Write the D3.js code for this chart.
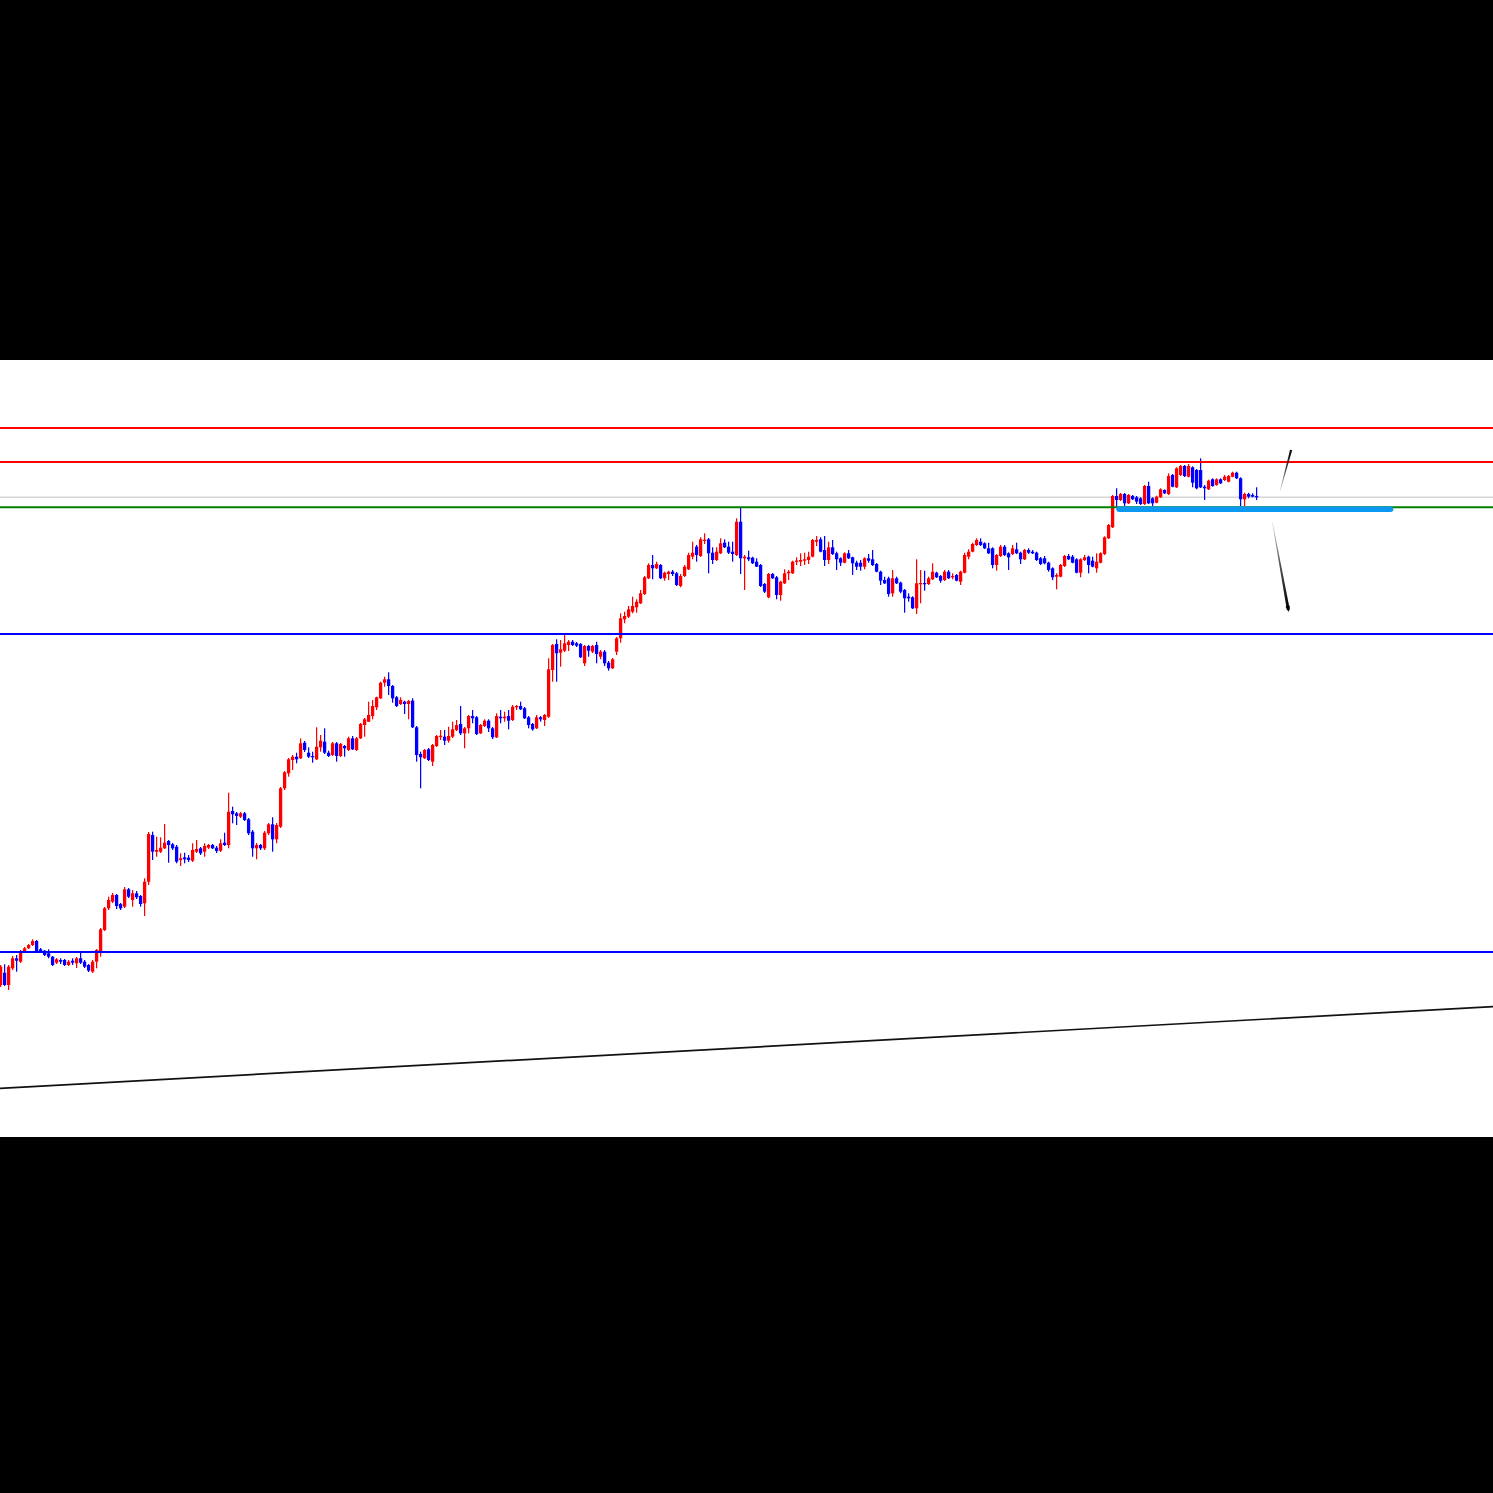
<!DOCTYPE html>
<html><head><meta charset="utf-8">
<script src="https://cdn.jsdelivr.net/npm/d3@7/dist/d3.min.js"></script>
<style>html,body{margin:0;padding:0;background:#000;overflow:hidden}</style>
</head><body>
<script>
// ---- candle data (bar index = position in arrays) ----
const opens = [
143.750,143.873,143.750,143.917,144.017,143.983,144.083,144.117,144.150,144.190,
144.107,144.093,144.067,144.033,143.973,144.000,144.000,143.950,143.993,143.967,
144.017,143.983,143.950,143.883,143.983,144.083,144.300,144.517,144.583,144.650,
144.560,144.533,144.707,144.600,144.667,144.640,144.567,144.783,145.250,145.083,
145.083,145.117,145.190,145.157,145.133,145.000,145.027,145.023,144.993,145.083,
145.117,145.083,145.123,145.150,145.123,145.093,145.173,145.150,145.490,145.467,
145.433,145.467,145.407,145.283,145.117,145.150,145.117,145.267,145.357,145.207,
145.333,145.717,145.867,146.000,146.033,146.017,146.173,146.073,146.040,146.007,
146.127,146.183,146.073,146.050,146.167,146.040,146.140,146.100,146.217,146.100,
146.217,146.350,146.383,146.440,146.527,146.617,146.773,146.807,146.740,146.627,
146.560,146.583,146.560,146.593,146.327,146.060,146.017,146.107,145.983,146.140,
146.233,146.233,146.193,146.233,146.300,146.360,146.267,146.317,146.440,146.427,
146.267,146.340,146.393,146.317,146.227,146.433,146.417,146.440,146.400,146.527,
146.540,146.517,146.427,146.360,146.317,146.427,146.400,146.433,146.900,147.160,
147.073,147.093,147.150,147.183,147.167,147.160,146.967,147.140,147.083,147.150,
147.033,147.083,146.973,146.917,147.083,147.217,147.407,147.433,147.483,147.527,
147.567,147.660,147.817,147.950,147.917,147.950,147.817,147.860,147.883,147.867,
147.740,147.840,147.907,148.033,148.133,148.040,148.193,148.207,148.073,148.000,
148.067,148.173,148.133,148.083,148.050,148.383,148.017,148.027,148.023,147.983,
147.950,147.760,147.627,147.860,147.827,147.650,147.767,147.867,147.867,147.983,
147.983,147.993,148.000,148.033,148.183,148.207,148.100,148.000,148.127,148.067,
148.017,147.973,148.067,148.027,147.973,147.973,147.933,148.017,148.007,147.960,
147.883,147.800,147.817,147.667,147.817,147.773,147.700,147.633,147.627,147.517,
147.760,147.767,147.760,147.807,147.873,147.840,147.800,147.883,147.827,147.850,
147.783,147.873,148.033,148.083,148.150,148.183,148.167,148.117,148.117,147.950,
148.040,148.133,148.067,148.060,148.107,148.073,148.007,148.100,148.083,148.073,
148.017,148.017,147.973,147.917,147.833,147.833,147.940,148.040,148.033,148.007,
147.873,148.000,148.033,147.993,147.917,147.973,148.060,148.217,148.327,148.640,
148.600,148.660,148.567,148.640,148.627,148.617,148.560,148.740,148.617,148.573,
148.627,148.700,148.660,148.850,148.727,148.850,148.940,148.833,148.927,148.900,
148.900,148.733,148.707,148.807,148.750,148.807,148.800,148.783,148.833,148.873,
148.817,148.607,148.660,148.650,148.640];
const highs = [
143.950,143.957,143.950,144.040,144.050,144.100,144.130,144.160,144.207,144.200,
144.120,144.100,144.107,144.040,144.020,144.017,144.010,144.000,144.017,144.030,
144.073,144.000,143.960,144.000,144.110,144.320,144.530,144.633,144.670,144.660,
144.570,144.730,144.720,144.700,144.690,144.650,144.817,145.280,145.283,145.233,
145.227,145.360,145.200,145.170,145.150,145.067,145.073,145.050,145.167,145.200,
145.130,145.167,145.160,145.160,145.140,145.207,145.273,145.673,145.533,145.480,
145.480,145.480,145.420,145.300,145.170,145.160,145.290,145.370,145.427,145.370,
145.730,145.890,146.020,146.050,146.073,146.217,146.190,146.127,146.083,146.327,
146.250,146.317,146.093,146.180,146.180,146.170,146.150,146.233,146.240,146.230,
146.370,146.420,146.583,146.600,146.633,146.783,146.833,146.877,146.750,146.640,
146.627,146.593,146.600,146.617,146.340,146.083,146.110,146.120,146.160,146.250,
146.300,146.300,146.333,146.383,146.400,146.540,146.330,146.450,146.500,146.440,
146.360,146.407,146.407,146.330,146.467,146.500,146.483,146.500,146.550,146.550,
146.583,146.530,146.440,146.370,146.450,146.440,146.460,147.017,147.160,147.207,
147.200,147.260,147.200,147.200,147.180,147.170,147.150,147.150,147.150,147.183,
147.100,147.100,146.990,147.020,147.230,147.467,147.483,147.540,147.633,147.607,
147.700,147.840,147.967,148.050,147.983,147.960,147.883,147.893,147.900,147.880,
147.860,147.950,148.073,148.183,148.150,148.227,148.267,148.220,148.127,148.127,
148.217,148.207,148.183,148.183,148.417,148.527,148.050,148.093,148.033,148.017,
147.960,147.770,147.870,147.870,147.840,147.793,147.907,147.900,147.993,148.027,
148.067,148.073,148.083,148.210,148.240,148.227,148.240,148.183,148.200,148.083,
148.027,148.077,148.100,148.033,147.993,148.000,148.027,148.060,148.100,147.970,
147.893,147.833,147.833,147.900,147.833,147.783,147.710,147.667,147.637,148.007,
147.900,147.893,147.833,147.967,147.883,147.850,147.900,147.900,147.867,147.860,
147.893,148.073,148.107,148.173,148.217,148.217,148.177,148.173,148.127,148.060,
148.150,148.150,148.077,148.150,148.173,148.083,148.110,148.117,148.100,148.083,
148.030,148.040,147.983,147.927,147.867,147.960,148.050,148.060,148.050,148.017,
148.017,148.050,148.043,148.033,148.067,148.077,148.237,148.360,148.650,148.717,
148.670,148.670,148.660,148.650,148.640,148.627,148.750,148.783,148.627,148.643,
148.717,148.707,148.867,148.860,148.927,148.950,148.950,148.960,148.937,148.910,
149.017,148.750,148.803,148.817,148.817,148.817,148.850,148.850,148.883,148.883,
148.827,148.673,148.673,148.667,148.727];
const lows = [
143.730,143.740,143.700,143.900,143.883,143.970,144.070,144.110,144.140,144.080,
144.070,144.040,144.017,143.940,143.960,143.960,143.940,143.940,143.950,143.920,
143.960,143.920,143.880,143.870,143.917,144.033,144.290,144.500,144.570,144.510,
144.500,144.520,144.620,144.533,144.610,144.533,144.440,144.750,145.000,145.033,
145.070,145.110,144.973,145.100,144.967,144.940,144.967,144.980,144.980,145.070,
145.050,145.033,145.110,145.110,145.070,145.080,145.140,145.117,145.367,145.350,
145.420,145.390,145.250,145.033,145.007,145.100,145.100,145.250,145.083,145.167,
145.320,145.700,145.833,145.900,145.967,146.010,146.080,146.020,145.973,146.000,
146.083,146.060,146.030,146.040,145.983,146.030,146.033,146.090,146.100,146.090,
146.210,146.233,146.380,146.407,146.500,146.610,146.733,146.650,146.573,146.530,
146.550,146.460,146.407,146.320,145.983,145.717,146.010,145.990,145.940,146.130,
146.200,146.150,146.173,146.220,146.290,146.250,146.117,146.267,146.367,146.250,
146.260,146.330,146.280,146.210,146.220,146.367,146.383,146.307,146.390,146.500,
146.500,146.410,146.317,146.293,146.310,146.383,146.340,146.420,146.783,146.783,
146.933,147.080,147.090,147.140,147.130,147.020,146.940,147.033,147.070,146.967,
147.007,146.940,146.893,146.910,147.050,147.173,147.367,147.420,147.467,147.473,
147.560,147.650,147.810,147.807,147.910,147.810,147.793,147.800,147.840,147.740,
147.727,147.830,147.900,148.007,147.983,148.030,148.160,147.867,147.960,147.990,
148.060,148.120,148.060,147.983,148.040,147.860,147.700,147.990,147.960,147.930,
147.730,147.670,147.617,147.810,147.607,147.593,147.760,147.800,147.860,147.950,
147.940,147.950,147.960,148.027,148.140,148.077,147.940,147.960,148.050,147.900,
147.940,147.967,148.010,147.850,147.900,147.893,147.907,147.973,147.940,147.877,
147.750,147.760,147.633,147.633,147.760,147.667,147.473,147.583,147.510,147.460,
147.567,147.693,147.750,147.800,147.820,147.773,147.790,147.810,147.807,147.787,
147.750,147.867,148.007,148.077,148.140,148.140,148.110,148.060,147.917,147.893,
148.030,148.040,147.900,148.050,148.060,147.960,148.000,148.060,148.060,147.990,
147.950,147.957,147.883,147.800,147.707,147.827,147.930,148.000,147.967,147.867,
147.827,147.990,147.867,147.927,147.873,147.967,148.050,148.210,148.320,148.533,
148.590,148.540,148.560,148.600,148.560,148.550,148.550,148.560,148.540,148.567,
148.620,148.660,148.650,148.727,148.720,148.840,148.830,148.827,148.727,148.707,
148.720,148.600,148.700,148.733,148.743,148.760,148.790,148.777,148.827,148.810,
148.540,148.540,148.617,148.627,148.600];
const closes = [
143.933,143.750,143.933,144.017,143.993,144.083,144.117,144.150,144.190,144.083,
144.083,144.050,144.033,143.950,144.007,143.983,143.950,143.983,143.973,144.017,
143.973,143.933,143.893,143.983,144.100,144.307,144.517,144.600,144.650,144.540,
144.517,144.707,144.633,144.667,144.627,144.560,144.783,145.260,145.083,145.100,
145.123,145.173,145.150,145.117,144.983,145.017,145.007,145.000,145.100,145.110,
145.067,145.140,145.150,145.117,145.090,145.167,145.150,145.483,145.457,145.440,
145.467,145.400,145.267,145.117,145.150,145.117,145.273,145.357,145.207,145.350,
145.717,145.877,146.007,146.033,146.007,146.167,146.100,146.033,146.027,146.133,
146.193,146.073,146.040,146.167,146.040,146.160,146.117,146.217,146.107,146.217,
146.360,146.407,146.450,146.540,146.627,146.773,146.807,146.740,146.617,146.540,
146.600,146.560,146.590,146.327,146.050,146.027,146.100,146.000,146.150,146.240,
146.240,146.193,146.240,146.307,146.350,146.267,146.317,146.440,146.417,146.260,
146.350,146.393,146.317,146.227,146.440,146.417,146.433,146.393,146.533,146.540,
146.507,146.417,146.350,146.307,146.427,146.407,146.450,146.907,147.150,147.067,
147.107,147.167,147.183,147.150,147.143,147.027,147.140,147.093,147.140,147.060,
147.083,146.967,146.917,147.007,147.217,147.417,147.440,147.507,147.540,147.583,
147.667,147.827,147.950,147.917,147.960,147.817,147.873,147.883,147.860,147.750,
147.840,147.933,148.050,148.073,148.050,148.207,148.200,148.067,148.000,148.083,
148.167,148.127,148.073,148.060,148.383,148.017,148.033,148.007,147.967,147.933,
147.740,147.683,147.860,147.817,147.650,147.783,147.867,147.883,147.983,147.993,
148.000,148.007,148.033,148.200,148.200,148.083,148.000,148.127,148.060,148.007,
147.973,148.067,148.017,147.967,147.933,147.933,148.017,147.993,147.950,147.883,
147.793,147.767,147.660,147.817,147.767,147.683,147.617,147.617,147.517,147.767,
147.767,147.760,147.817,147.883,147.827,147.793,147.883,147.817,147.840,147.793,
147.883,148.050,148.083,148.160,148.200,148.150,148.117,148.067,147.950,148.050,
148.133,148.050,148.027,148.117,148.067,148.007,148.100,148.073,148.067,148.000,
147.960,147.967,147.900,147.827,147.850,147.950,148.040,148.007,147.973,147.873,
148.007,148.027,147.950,147.933,147.983,148.067,148.227,148.350,148.640,148.600,
148.660,148.567,148.650,148.607,148.583,148.560,148.740,148.567,148.567,148.633,
148.707,148.667,148.840,148.733,148.917,148.940,148.840,148.940,148.773,148.717,
148.727,148.717,148.793,148.740,148.807,148.767,148.833,148.840,148.873,148.817,
148.607,148.660,148.633,148.633,148.627];

// ---- drawn objects ----
const resistanceLevels = [149.320, 148.980];
const supportLevels = [147.260, 144.080];
const greenLevel = 148.527;
const bidPrice = closes[closes.length - 1];
const zoneBars = [279.6, 347.5];
const zonePrice = 148.507;
const trendBars = [0, 373];
const trendPrices = [142.717, 143.533];
const upArrowBars = [319.875, 322.625];
const upArrowPrices = [148.690, 149.100];
const downArrowBars = [317.95, 321.95];
const downArrowPrices = [148.377, 147.500];

// ---- layout ----
const W = 1493, H = 1493, plotTop = 360, plotBottom = 1137;
const svg = d3.select("body").append("svg").attr("width", W).attr("height", H)
  .style("display", "block");
svg.append("rect").attr("width", W).attr("height", H).attr("fill", "#000");
svg.append("rect").attr("x", 0).attr("y", plotTop).attr("width", W)
  .attr("height", plotBottom - plotTop).attr("fill", "#fff");

const x = d3.scaleLinear().domain([0, 373]).range([0.6, 1492.6]);
const y = d3.scaleLinear().domain([142.23, 150.00]).range([plotBottom, plotTop]);

const plot = svg.append("g");
const data = opens.map((o, i) => ({i, o, h: highs[i], l: lows[i], c: closes[i]}));

// bid line (behind candles)
plot.append("line").attr("x1", 0).attr("x2", W).attr("y1", y(bidPrice)).attr("y2", y(bidPrice))
  .attr("stroke", "#d6d6d6").attr("stroke-width", 1.5);

const candles = plot.append("g");
const col = d => d.c >= d.o ? "#ff0000" : "#0000ff";
candles.selectAll("line.w").data(data).join("line").attr("class", "w")
  .attr("x1", d => x(d.i)).attr("x2", d => x(d.i))
  .attr("y1", d => y(d.h)).attr("y2", d => y(d.l))
  .attr("stroke", col).attr("stroke-width", 1.25);
candles.selectAll("rect.b").data(data).join("rect").attr("class", "b")
  .attr("x", d => x(d.i) - 1.65)
  .attr("width", 3.3)
  .attr("y", d => {
    const t = y(Math.max(d.o, d.c)), b = y(Math.min(d.o, d.c));
    return b - t >= 1.3 ? t : (t + b) / 2 - 0.65;
  })
  .attr("height", d => Math.max(1.3, y(Math.min(d.o, d.c)) - y(Math.max(d.o, d.c))))
  .attr("fill", col);

// horizontal levels
const hline = (p, color, w) => plot.append("line").attr("x1", 0).attr("x2", W)
  .attr("y1", y(p)).attr("y2", y(p)).attr("stroke", color).attr("stroke-width", w);
resistanceLevels.forEach(p => hline(p, "#ff0000", 2));
hline(greenLevel, "#008000", 2);
supportLevels.forEach(p => hline(p, "#0000ff", 2));

// zone segment
plot.append("line").attr("x1", x(zoneBars[0])).attr("x2", x(zoneBars[1]))
  .attr("y1", y(zonePrice)).attr("y2", y(zonePrice))
  .attr("stroke", "#0a98f2").attr("stroke-width", 5.5).attr("stroke-linecap", "round");

// trend line extended across the width
const slope = (trendPrices[1] - trendPrices[0]) / (trendBars[1] - trendBars[0]);
const trendAt = b => trendPrices[0] + slope * (b - trendBars[0]);
const bL = x.invert(0), bR = x.invert(W);
plot.append("line").attr("x1", 0).attr("x2", W)
  .attr("y1", y(trendAt(bL))).attr("y2", y(trendAt(bR)))
  .attr("stroke", "#111").attr("stroke-width", 1.7);

// tapered arrows
const defs = svg.append("defs");
function grad(id, bars, prices) {
  const gr = defs.append("linearGradient").attr("id", id).attr("gradientUnits", "userSpaceOnUse")
    .attr("x1", x(bars[0])).attr("y1", y(prices[0])).attr("x2", x(bars[1])).attr("y2", y(prices[1]));
  gr.append("stop").attr("offset", 0).attr("stop-color", "#000").attr("stop-opacity", 0.15);
  gr.append("stop").attr("offset", 0.5).attr("stop-color", "#000").attr("stop-opacity", 0.7);
  gr.append("stop").attr("offset", 1).attr("stop-color", "#000").attr("stop-opacity", 1);
}
function wedge(id, bars, prices, w0, w1, head) {
  const x0 = x(bars[0]), y0 = y(prices[0]), x1 = x(bars[1]), y1 = y(prices[1]);
  const dx = x1 - x0, dy = y1 - y0, len = Math.hypot(dx, dy);
  const ux = dx / len, uy = dy / len, nx = -uy, ny = ux;
  const pts = [
    [x0 + nx * w0 / 2, y0 + ny * w0 / 2],
    [x1 + nx * w1 / 2, y1 + ny * w1 / 2],
    [x1 - nx * w1 / 2, y1 - ny * w1 / 2],
    [x0 - nx * w0 / 2, y0 - ny * w0 / 2]];
  const g = plot.append("g");
  g.append("path").attr("d", d3.line()(pts) + "Z").attr("fill", "url(#" + id + ")");
  if (head) {
    const hp = [[x1 + ux * 2, y1 + uy * 2], [x1 - ux * 4 + nx * 2.2, y1 - uy * 4 + ny * 2.2],
                [x1 - ux * 4 - nx * 2.2, y1 - uy * 4 - ny * 2.2]];
    g.append("path").attr("d", d3.line()(hp) + "Z").attr("fill", "#000");
  }
}
grad("fadeU", upArrowBars, upArrowPrices);
grad("fadeD", downArrowBars, downArrowPrices);
wedge("fadeU", upArrowBars, upArrowPrices, 0.5, 2.2, false);
wedge("fadeD", downArrowBars, downArrowPrices, 0.5, 3.0, true);
</script>
</body></html>
